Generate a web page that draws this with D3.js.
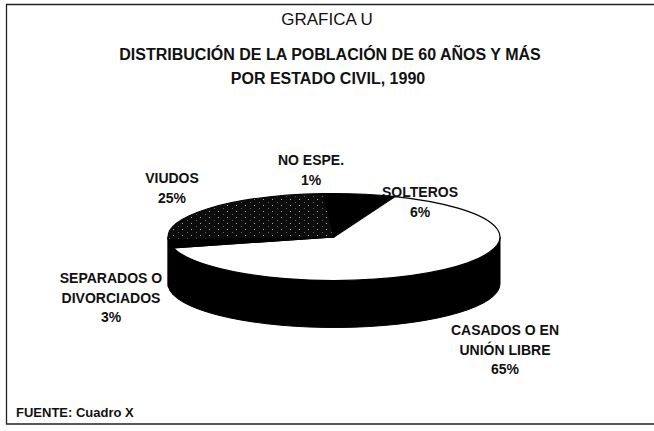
<!DOCTYPE html>
<html>
<head>
<meta charset="utf-8">
<script src="https://cdn.jsdelivr.net/npm/d3@7"></script>
<style>
  body { margin: 0; background: #fff; }
  text { font-family: "Liberation Sans", Arial, sans-serif; fill: #111; }
</style>
</head>
<body>
<div id="chart"></div>
<script>
// data, in the order the slices go round (clockwise from 12 o'clock)
var categories = ["SOLTEROS", "CASADOS O EN UNIÓN LIBRE", "SEPARADOS O DIVORCIADOS", "VIUDOS", "NO ESPE."];
var shares = [6, 65, 3, 25, 1];
var labelLines = [["SOLTEROS"], ["CASADOS O EN", "UNIÓN LIBRE"], ["SEPARADOS O", "DIVORCIADOS"], ["VIUDOS"], ["NO ESPE."]];
var fills = ["#000", "#fff", "#000", "url(#stipple)", "#000"];

var width = 654, height = 431;
var cx = 334, cy = 237, rx = 166, ry = 43.5, depth = 47;

// where each label block sits (centre x, first baseline y)
var labelPos = [[420, 197], [505, 335], [111, 283], [172, 183], [311, 165]];

var svg = d3.select("#chart").append("svg")
    .attr("width", width)
    .attr("height", height);

var defs = svg.append("defs");
var pat = defs.append("pattern")
    .attr("id", "stipple")
    .attr("patternUnits", "userSpaceOnUse")
    .attr("width", 9).attr("height", 6);
pat.append("rect").attr("width", 9).attr("height", 6).attr("fill", "#0c0c0c");
pat.append("rect").attr("x", 2).attr("y", 1).attr("width", 1).attr("height", 1).attr("fill", "#aaa");
pat.append("rect").attr("x", 7).attr("y", 4).attr("width", 1).attr("height", 1).attr("fill", "#666");

// frame
svg.append("path")
    .attr("d", "M654,4.5 H6.5 V424 H654")
    .attr("fill", "none")
    .attr("stroke", "#222")
    .attr("stroke-width", 1.3);

svg.append("text")
    .attr("x", 327).attr("y", 25)
    .attr("text-anchor", "middle")
    .style("font-size", "17px")
    .text("GRAFICA U");

svg.append("text")
    .attr("x", 330).attr("y", 60)
    .attr("text-anchor", "middle")
    .style("font-size", "16px")
    .style("font-weight", "bold")
    .text("DISTRIBUCIÓN DE LA POBLACIÓN DE 60 AÑOS Y MÁS");

svg.append("text")
    .attr("x", 328).attr("y", 84)
    .attr("text-anchor", "middle")
    .style("font-size", "16px")
    .style("font-weight", "bold")
    .text("POR ESTADO CIVIL, 1990");

svg.append("text")
    .attr("x", 16).attr("y", 417)
    .style("font-size", "13px")
    .style("font-weight", "bold")
    .text("FUENTE: Cuadro X");

var pie = d3.pie().sort(null).value(function(d) { return d; });
var arcs = pie(shares);

function pt(a, dy) {
    return [cx + rx * Math.sin(a), cy - ry * Math.cos(a) + (dy || 0)];
}

function topPath(d) {
    var p0 = pt(d.startAngle), p1 = pt(d.endAngle);
    var large = (d.endAngle - d.startAngle) > Math.PI ? 1 : 0;
    return "M" + cx + "," + cy + "L" + p0 + "A" + rx + "," + ry + " 0 " + large + " 1 " + p1 + "Z";
}

function sidePath(d) {
    // only the front half (between 3 and 9 o'clock) can be seen
    var a0 = Math.max(d.startAngle, Math.PI / 2),
        a1 = Math.min(d.endAngle, Math.PI * 1.5);
    if (a1 <= a0) return null;
    var large = (a1 - a0) > Math.PI ? 1 : 0;
    return "M" + pt(a0) + "A" + rx + "," + ry + " 0 " + large + " 1 " + pt(a1) +
        "L" + pt(a1, depth) + "A" + rx + "," + ry + " 0 " + large + " 0 " + pt(a0, depth) + "Z";
}

var pieG = svg.append("g");

pieG.selectAll("path.side")
    .data(arcs.filter(function(d) { return sidePath(d) !== null; }))
    .enter().append("path")
    .attr("class", "side")
    .attr("d", sidePath)
    .attr("fill", "#000")
    .attr("stroke", "#000")
    .attr("stroke-width", 1);

pieG.selectAll("path.top")
    .data(arcs)
    .enter().append("path")
    .attr("class", "top")
    .attr("d", topPath)
    .attr("fill", function(d, i) { return fills[i]; })
    .attr("stroke", "#000")
    .attr("stroke-width", 1.2);

// labels
var labels = svg.append("g").selectAll("text")
    .data(arcs)
    .enter().append("text")
    .attr("text-anchor", "middle")
    .style("font-size", "14px")
    .style("font-weight", "bold")
    .attr("transform", function(d, i) { return "translate(" + labelPos[i] + ")"; });

labels.each(function(d, i) {
    var t = d3.select(this);
    labelLines[i].concat([shares[i] + "%"]).forEach(function(line, j) {
        t.append("tspan").attr("x", 0).attr("y", j * 19.5).text(line);
    });
});
</script>
</body>
</html>
